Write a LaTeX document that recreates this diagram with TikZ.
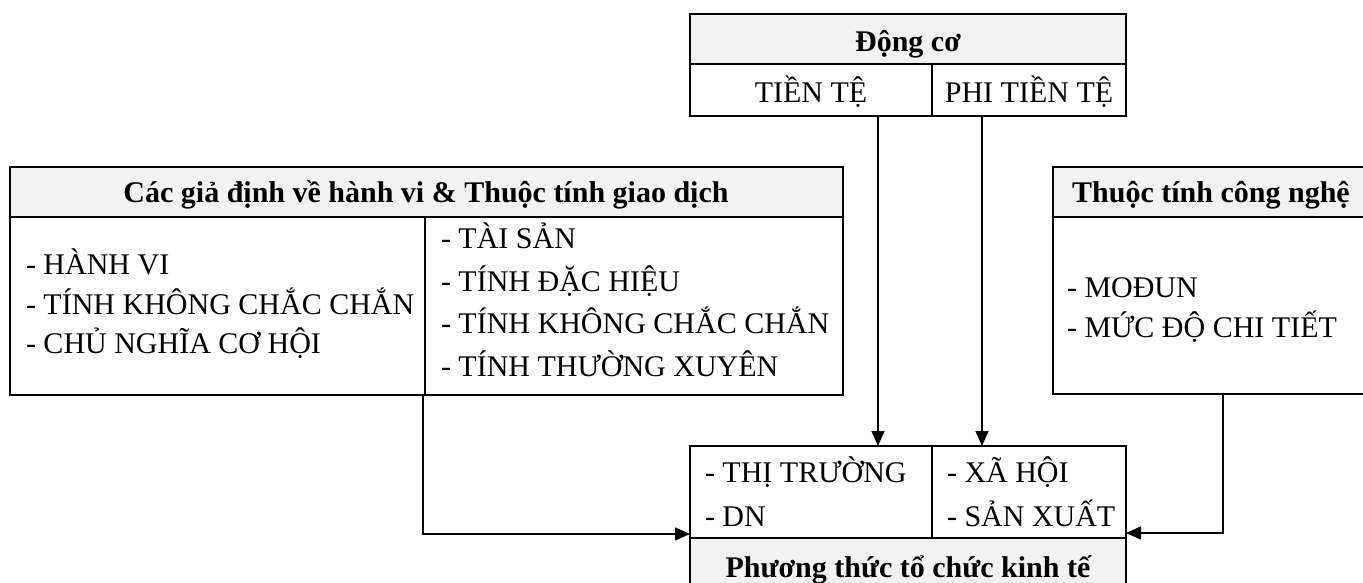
\documentclass[tikz,border=0pt]{standalone}
\usepackage{fontspec}
\setmainfont{Liberation Serif}
\usetikzlibrary{arrows.meta}
\definecolor{hdrgray}{HTML}{F2F2F2}
\tikzset{
  cell/.style={draw=black, line width=2pt, anchor=north west, inner sep=0pt, outer sep=0pt},
  hdrcell/.style={cell, fill=hdrgray},
  txt/.style={inner sep=0pt, outer sep=0pt, font=\fontsize{30}{36}\selectfont},
  hdrtxt/.style={txt, anchor=base, font=\fontsize{30}{36}\selectfont\bfseries},
  item/.style={txt, anchor=base west},
  ctr/.style={txt, anchor=base},
  arr/.style={line width=1.5pt, -{Triangle[length=15pt,width=13pt]}}
}
\begin{document}
\begin{tikzpicture}[x=1pt, y=-1pt]
\useasboundingbox (0,0) rectangle (1363,583);
\clip (0,0) rectangle (1363,583);
\fill[white] (0,0) rectangle (1363,583);

% Motive box (top)
\node[hdrcell, minimum width=436pt, minimum height=50pt] (dcHead) at (690,14) {};
\node[cell, minimum width=242pt, minimum height=52pt] (dcL) at (690,64) {};
\node[cell, minimum width=194pt, minimum height=52pt] (dcR) at (932,64) {};
\node[hdrtxt] (tDc) at (908,52) {Động cơ};
\node[ctr] (tTien) at (811,103) {TIỀN TỆ};
\node[ctr] (tPhi) at (1029,103) {PHI TIỀN TỆ};

% Behaviour & transaction attributes box (left)
\node[hdrcell, minimum width=833pt, minimum height=50pt] (gdHead) at (10,167) {};
\node[cell, minimum width=415pt, minimum height=178pt] (gdL) at (10,217) {};
\node[cell, minimum width=418pt, minimum height=178pt] (gdR) at (425,217) {};
\node[hdrtxt] (tGd) at (426,202) {Các giả định về hành vi \& Thuộc tính giao dịch};
\node[item] (l1) at (26,274) {- HÀNH VI};
\node[item] (l2) at (26,314) {- TÍNH KHÔNG CHẮC CHẮN};
\node[item] (l3) at (26,353) {- CHỦ NGHĨA CƠ HỘI};
\node[item] (r1) at (441,248) {- TÀI SẢN};
\node[item] (r2) at (441,291) {- TÍNH ĐẶC HIỆU};
\node[item] (r3) at (441,333) {- TÍNH KHÔNG CHẮC CHẮN};
\node[item] (r4) at (441,376) {- TÍNH THƯỜNG XUYÊN};

% Technology attributes box (right)
\node[hdrcell, minimum width=317pt, minimum height=50pt] (cnHead) at (1053,167) {};
\node[cell, minimum width=317pt, minimum height=177pt] (cnBody) at (1053,217) {};
\node[hdrtxt] (tCn) at (1211,202) {Thuộc tính công nghệ};
\node[item] (c1) at (1067,297) {- MOĐUN};
\node[item] (c2) at (1067,337) {- MỨC ĐỘ CHI TIẾT};

% Economic organisation box (bottom)
\node[cell, minimum width=242pt, minimum height=92pt] (ptL) at (690,446) {};
\node[cell, minimum width=194pt, minimum height=92pt] (ptR) at (932,446) {};
\node[hdrcell, minimum width=436pt, minimum height=60pt] (ptHead) at (690,538) {};
\node[item] (p1) at (705,482) {- THỊ TRƯỜNG};
\node[item] (p2) at (705,526) {- DN};
\node[item] (p3) at (947,482) {- XÃ HỘI};
\node[item] (p4) at (947,526) {- SẢN XUẤT};
\node[hdrtxt] (tPt) at (908,577) {Phương thức tổ chức kinh tế};

% Connectors
\coordinate (srcTien) at (878,116);
\coordinate (srcPhi) at (982,116);
\coordinate (srcCn) at (1223,394);
\draw[arr] (srcTien) -- (srcTien |- ptL.north);
\draw[arr] (srcPhi) -- (srcPhi |- ptR.north);
\draw[arr] ([xshift=-2pt]gdL.south east) |- ([yshift=4pt]ptL.south west);
\draw[arr] (srcCn) |- ([yshift=5pt]ptR.south east);
\end{tikzpicture}
\end{document}
